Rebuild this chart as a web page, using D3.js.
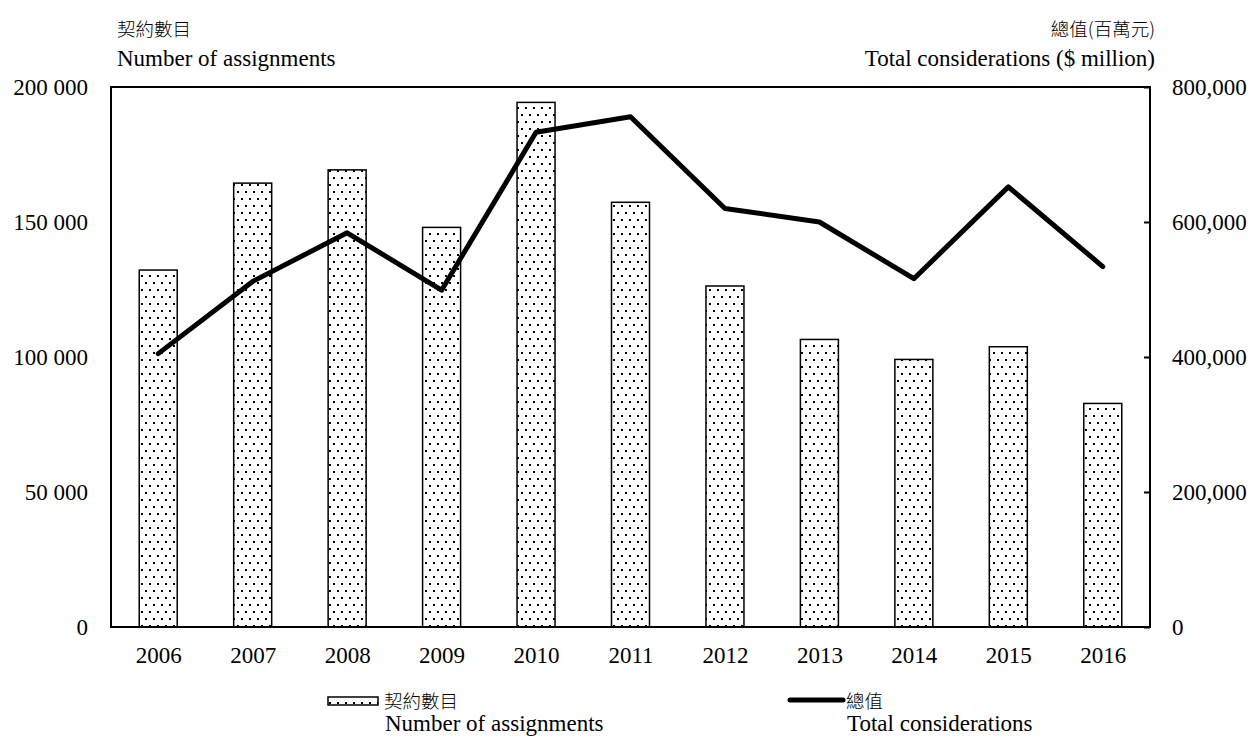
<!DOCTYPE html>
<html><head><meta charset="utf-8">
<script src="https://cdn.jsdelivr.net/npm/d3@7"></script>
<style>
body{margin:0;background:#fff;}
text{font-family:"Liberation Serif","Times New Roman",serif;fill:#000;}
.cjk{font-family:"Noto Sans CJK TC","Noto Sans CJK SC",sans-serif;font-weight:300;}
</style></head>
<body>
<svg id="c" width="1251" height="738"></svg>
<script>
const years = ["2006","2007","2008","2009","2010","2011","2012","2013","2014","2015","2016"];
const assignments = [132200,164400,169300,148000,194300,157300,126300,106500,99100,103800,82800];
const considerations = [405000,512000,584000,499000,733000,756000,620000,600000,516000,652000,534000];
const leftTicks = [0,50000,100000,150000,200000];
const rightTicks = [0,200000,400000,600000,800000];

const svg = d3.select("#c");
const L=111, R=1150, T=87, B=627;
const FS = 23;
const xc = d3.scalePoint().domain(years).range([L,R]).padding(0.5);
const yL = d3.scaleLinear().domain([0,200000]).range([B,T]);
const yR = d3.scaleLinear().domain([0,800000]).range([B,T]);

const defs = svg.append("defs");
const pat = defs.append("pattern").attr("id","dots").attr("patternUnits","userSpaceOnUse")
  .attr("width",8).attr("height",14);
pat.append("rect").attr("width",8).attr("height",14).attr("fill","#fff");
pat.append("rect").attr("x",1).attr("y",2).attr("width",2).attr("height",2).attr("fill","#000");
pat.append("rect").attr("x",5).attr("y",9).attr("width",2).attr("height",2).attr("fill","#000");

// bars
const bw = 38;
svg.append("g").selectAll("rect").data(years).join("rect")
  .attr("x",(d)=>xc(d)-bw/2).attr("width",bw)
  .attr("y",(d,i)=>yL(assignments[i])).attr("height",(d,i)=>B-yL(assignments[i]))
  .attr("fill","url(#dots)").attr("stroke","#000").attr("stroke-width",1.5);

// frame
svg.append("rect").attr("x",L).attr("y",T).attr("width",R-L).attr("height",B-T)
  .attr("fill","none").attr("stroke","#000").attr("stroke-width",2);

// line
const line = d3.line().x((d,i)=>xc(years[i])).y(d=>yR(d));
svg.append("path").datum(considerations).attr("d",line).attr("fill","none")
  .attr("stroke","#000").attr("stroke-width",5).attr("stroke-linejoin","round").attr("stroke-linecap","round");

// left axis
const ax = svg.append("g").attr("transform",`translate(${L},0)`)
  .call(d3.axisLeft(yL).tickValues(leftTicks).tickSize(0).tickPadding(23)
    .tickFormat(d=>d3.format(",")(d).replace(/,/g," ")));
ax.select(".domain").remove();
ax.selectAll("text").attr("font-size",FS).attr("font-family","Liberation Serif");

// right axis
const ar = svg.append("g").attr("transform",`translate(${R},0)`)
  .call(d3.axisRight(yR).tickValues(rightTicks).tickSize(-6).tickPadding(22).tickFormat(d3.format(",")));
ar.select(".domain").remove();
ar.selectAll("line").attr("stroke","#000").attr("stroke-width",2);
ar.selectAll("text").attr("font-size",FS).attr("font-family","Liberation Serif");

// bottom axis
const ab = svg.append("g").attr("transform",`translate(0,${B})`)
  .call(d3.axisBottom(xc).tickSize(0).tickPadding(20));
ab.select(".domain").remove();
ab.selectAll("text").attr("font-size",FS).attr("font-family","Liberation Serif");

// titles
svg.append("text").attr("class","cjk").attr("x",117).attr("y",36).attr("font-size",18.5).text("契約數目");
svg.append("text").attr("x",117).attr("y",66).attr("font-size",FS).text("Number of assignments");
svg.append("text").attr("class","cjk").attr("x",1155).attr("y",36).attr("font-size",18.5).attr("text-anchor","end").text("總值(百萬元)");
svg.append("text").attr("x",1155).attr("y",66).attr("font-size",FS).attr("text-anchor","end").text("Total considerations ($ million)");

// legend
svg.append("rect").attr("x",328).attr("y",697).attr("width",50).attr("height",8)
  .attr("fill","url(#dots)").attr("stroke","#000").attr("stroke-width",1.5);
svg.append("text").attr("class","cjk").attr("x",384).attr("y",708).attr("font-size",18.5).text("契約數目");
svg.append("text").attr("x",385).attr("y",731).attr("font-size",FS).text("Number of assignments");
svg.append("line").attr("x1",790).attr("x2",843).attr("y1",700).attr("y2",700)
  .attr("stroke","#000").attr("stroke-width",5).attr("stroke-linecap","round");
svg.append("text").attr("class","cjk").attr("x",846).attr("y",708).attr("font-size",18.5).text("總值");
svg.append("text").attr("x",847).attr("y",731).attr("font-size",FS).text("Total considerations");
</script>
</body></html>
